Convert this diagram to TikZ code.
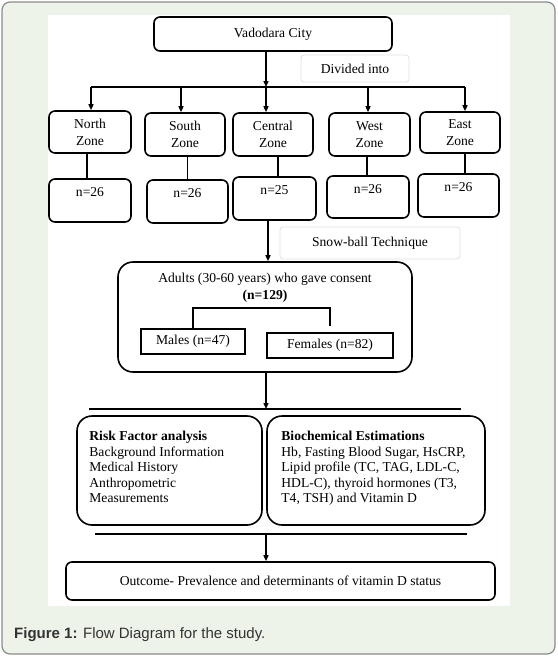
\documentclass[tikz,border=0pt]{standalone}
\usepackage{fontspec}
\setmainfont{Liberation Serif}
\newfontfamily\capfont{Liberation Sans}
\usetikzlibrary{arrows.meta,calc}
\definecolor{framebg}{HTML}{EEF3E9}
\definecolor{framebd}{HTML}{8A8A8A}
\newcommand\dfont{\fontsize{13.6}{17}\selectfont}
\begin{document}
\begin{tikzpicture}[x=1pt,y=-1pt,
  every node/.style={font=\dfont},
  box/.style={draw, line width=1.6pt, rounded corners=6pt, inner sep=0pt, align=center},
  bigbox/.style={box, rounded corners=15pt},
  plainbox/.style={draw, line width=1.5pt, inner sep=0pt},
  tagbox/.style={draw=black!12, line width=0.8pt, rounded corners=3pt, inner sep=0pt},
  conn/.style={line width=1.4pt},
  arr/.style={conn, -{Triangle[length=6pt,width=5pt]}},
  bar/.style={line width=2.2pt},
  ntext/.style={anchor=center, yshift=-14pt, inner sep=0pt},
  blocktext/.style={anchor=north west, inner sep=0pt, align=left, font={\fontsize{13.6}{15.5}\selectfont}},
]
\useasboundingbox (0,0) rectangle (557,656);
\path[fill=framebg, draw=framebd, line width=1.2pt, rounded corners=8pt] (2,2) rectangle (555,654);
\fill[white] (48,15) rectangle (510,606);

% top
\node[box, minimum width=238pt, minimum height=34pt] (city) at (273,34) {Vadodara City};
\node[tagbox, minimum width=108pt, minimum height=27pt] (div) at (355,68.5) {Divided into};
\coordinate (a1) at (91,87);
\coordinate (a2) at (181,87);
\coordinate (a3) at (266,87);
\coordinate (a4) at (368,87);
\coordinate (a5) at (465,87);
\draw[line width=1.5pt] (a1) -- (a5);
\draw[arr] ([xshift=-7pt]city.south) -- ([xshift=-7pt]city.south |- a1);

% zones
\node[box, minimum width=82pt, minimum height=42pt] (zN) at (90,132) {North\\Zone};
\node[box, minimum width=80pt, minimum height=43pt] (zS) at (185,134.5) {South\\Zone};
\node[box, minimum width=80pt, minimum height=43pt] (zC) at (273,134.5) {Central\\Zone};
\node[box, minimum width=81pt, minimum height=43pt] (zW) at (369.5,134.5) {West\\Zone};
\node[box, minimum width=80pt, minimum height=41pt] (zE) at (460,132.5) {East\\Zone};
\draw[arr] (a1) -- (a1 |- zN.north);
\draw[arr] (a2) -- (a2 |- zS.north);
\draw[arr] (a3) -- (a3 |- zC.north);
\draw[arr] (a4) -- (a4 |- zW.north);
\draw[arr] (a5) -- (a5 |- zE.north);

% counts
\node[box, minimum width=82pt, minimum height=43pt, label={[ntext]north:n=26}] (nN) at (90,200.5) {};
\node[box, minimum width=81pt, minimum height=43pt, label={[ntext]north:n=26}] (nS) at (187.5,201.5) {};
\node[box, minimum width=83pt, minimum height=43pt, label={[ntext]north:n=25}] (nC) at (274.5,198.5) {};
\node[box, minimum width=82pt, minimum height=42pt, label={[ntext]north:n=26}] (nW) at (368,197) {};
\node[box, minimum width=81pt, minimum height=43pt, label={[ntext]north:n=26}] (nE) at (458.5,195.5) {};
\coordinate (c1) at (87,0);
\coordinate (c2) at (187.5,0);
\coordinate (c3) at (278,0);
\coordinate (c4) at (367,0);
\coordinate (c5) at (465,0);
\draw[conn] (zN.south -| c1) -- (nN.north -| c1);
\draw[conn] (zS.south -| c2) -- (nS.north -| c2);
\draw[conn] (zC.south -| c3) -- (nC.north -| c3);
\draw[conn] (zW.south -| c4) -- (nW.north -| c4);
\draw[conn] (zE.south -| c5) -- (nE.north -| c5);

% snowball
\node[tagbox, minimum width=180pt, minimum height=32pt] (snow) at (370,243) {Snow-ball Technique};
\node[bigbox, minimum width=294pt, minimum height=110pt,
  label={[anchor=north, yshift=-12pt, inner sep=0pt, align=center, font={\fontsize{13.6}{17}\selectfont}]north:Adults (30-60 years) who gave consent\\\textbf{(n=129)}}] (adults) at (265,317) {};
\coordinate (ax) at (268,0);
\draw[arr] (nC.south -| ax) -- (adults.north -| ax);

\node[plainbox, minimum width=104pt, minimum height=25pt] (males) at (193,341.5) {Males (n=47)};
\node[plainbox, minimum width=126pt, minimum height=25pt] (females) at (330,345.5) {Females (n=82)};
\coordinate (bk) at (0,308);
\draw[conn] (males.north) -- (males.north |- bk) -- (females.north |- bk) -- ([yshift=6pt]females.north);

% second bar
\coordinate (b2l) at (89,409);
\coordinate (b2r) at (461,409);
\coordinate (ay) at (266,0);
\draw[bar] (b2l) -- (b2r);
\draw[arr] (adults.south -| ay) -- (b2l -| ay);

\node[bigbox, minimum width=185pt, minimum height=109pt,
  label={[blocktext, xshift=13pt, yshift=-16pt]north west:\textbf{Risk Factor analysis}\\Background Information\\Medical History\\Anthropometric\\Measurements}] (risk) at (169.5,470.5) {};
\node[bigbox, minimum width=218pt, minimum height=109pt,
  label={[blocktext, xshift=15pt, yshift=-16pt]north west:\textbf{Biochemical Estimations}\\Hb, Fasting Blood Sugar, HsCRP,\\Lipid profile (TC, TAG, LDL-C,\\HDL-C), thyroid hormones (T3,\\T4, TSH) and Vitamin D}] (bio) at (376,470.5) {};

% third bar
\coordinate (b3l) at (95,534);
\coordinate (b3r) at (467,534);
\draw[bar] (b3l) -- (b3r);
\node[box, minimum width=429pt, minimum height=38pt] (out) at (280.5,581) {Outcome- Prevalence and determinants of vitamin D status};
\draw[arr] (b3l -| ay) -- (out.north -| ay);

% caption
\node[anchor=west, inner sep=0pt, font={\capfont\fontsize{15}{18}\selectfont}, text=black!80] (cap) at (14,635) {\textbf{Figure 1:} Flow Diagram for the study.};
\end{tikzpicture}
\end{document}
